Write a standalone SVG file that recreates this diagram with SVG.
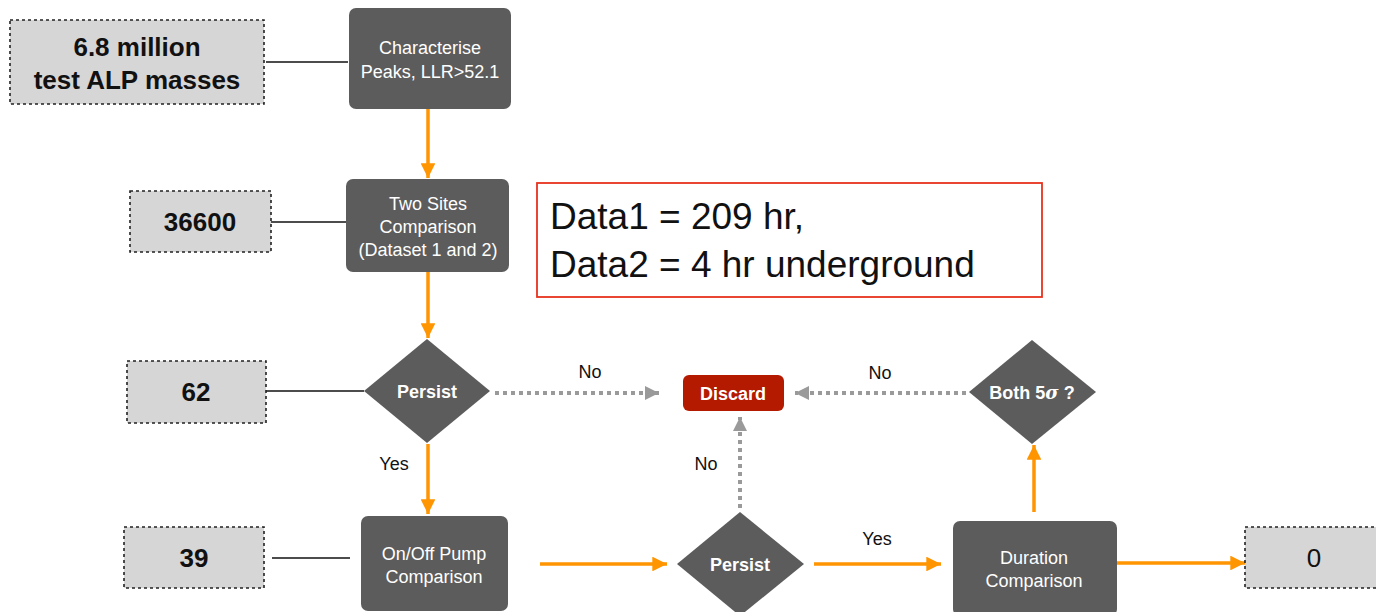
<svg xmlns="http://www.w3.org/2000/svg" width="1376" height="612" viewBox="0 0 1376 612">
<defs>
<style>
.cnt{fill:#d6d6d6;stroke:#222;stroke-width:1.6;stroke-dasharray:3 3}
.cnttxt{font-family:"Liberation Sans",Arial,sans-serif;font-size:26px;font-weight:bold;fill:#111;text-anchor:middle}
.proc{fill:#5c5c5c}
.proctxt{font-family:"Liberation Sans",Arial,sans-serif;font-size:18px;fill:#fff;text-anchor:middle}
.dtxt{font-family:"Liberation Sans",Arial,sans-serif;font-size:18px;font-weight:bold;fill:#fff;text-anchor:middle}
.lbl{font-family:"Liberation Sans",Arial,sans-serif;font-size:18px;fill:#111;text-anchor:middle}
.link{stroke:#111;stroke-width:1.6;fill:none}
.flow{stroke:#ff9500;stroke-width:3.5;fill:none}
.no{stroke:#9a9a9a;stroke-width:4;stroke-dasharray:4 4;fill:none}
</style>
<marker id="ao" viewBox="0 0 10 10" refX="10" refY="5" markerWidth="4.2" markerHeight="4.2" markerUnits="strokeWidth" orient="auto"><path d="M0,0 L10,5 L0,10 Z" fill="#ff9500"/></marker>
<marker id="ag" viewBox="0 0 10 10" refX="10" refY="5" markerWidth="3.5" markerHeight="3.5" markerUnits="strokeWidth" orient="auto"><path d="M0,0 L10,5 L0,10 Z" fill="#9a9a9a"/></marker>
</defs>
<rect width="1376" height="612" fill="#fff"/>

<g id="connectors">
<line class="link" x1="266" y1="62" x2="348" y2="62"/>
<line class="link" x1="271" y1="222" x2="346" y2="222"/>
<line class="link" x1="266" y1="391" x2="364" y2="391"/>
<line class="link" x1="272" y1="558" x2="350" y2="558"/>
<line class="flow" x1="428" y1="109" x2="428" y2="178" marker-end="url(#ao)"/>
<line class="flow" x1="428" y1="272" x2="428" y2="338" marker-end="url(#ao)"/>
<line class="flow" x1="428" y1="444" x2="428" y2="514" marker-end="url(#ao)"/>
<line class="flow" x1="540" y1="564" x2="667" y2="564" marker-end="url(#ao)"/>
<line class="flow" x1="814" y1="564" x2="941" y2="564" marker-end="url(#ao)"/>
<line class="flow" x1="1117" y1="563" x2="1245" y2="563" marker-end="url(#ao)"/>
<line class="flow" x1="1034" y1="512" x2="1034" y2="445" marker-end="url(#ao)"/>
<line class="no" x1="495" y1="393" x2="659" y2="393" marker-end="url(#ag)"/>
<line class="no" x1="966" y1="393" x2="795" y2="393" marker-end="url(#ag)"/>
<line class="no" x1="740" y1="508" x2="740" y2="417" marker-end="url(#ag)"/>
<text class="lbl" x="590" y="378">No</text>
<text class="lbl" x="880" y="379">No</text>
<text class="lbl" x="706" y="470">No</text>
<text class="lbl" x="394" y="470">Yes</text>
<text class="lbl" x="877" y="545">Yes</text>
</g>

<g id="count1"><rect class="cnt" x="10" y="20" width="254" height="84"/><text class="cnttxt" x="137" y="56">6.8 million</text><text class="cnttxt" x="137" y="89">test ALP masses</text></g>
<g id="count2"><rect class="cnt" x="130" y="191" width="141" height="61"/><text class="cnttxt" x="200" y="231">36600</text></g>
<g id="count3"><rect class="cnt" x="127" y="361" width="139" height="62"/><text class="cnttxt" x="196" y="401">62</text></g>
<g id="count4"><rect class="cnt" x="124" y="527" width="140" height="61"/><text class="cnttxt" x="194" y="567">39</text></g>
<g id="count5"><rect class="cnt" x="1245" y="527" width="140" height="61"/><text class="cnttxt" x="1314" y="567" style="font-weight:normal">0</text></g>

<g id="characterise"><rect class="proc" x="349" y="8" width="162" height="101" rx="7"/><text class="proctxt" x="430" y="54">Characterise</text><text class="proctxt" x="430" y="78">Peaks, LLR&gt;52.1</text></g>
<g id="twosites"><rect class="proc" x="346" y="179" width="163" height="93" rx="7"/><text class="proctxt" x="428" y="210">Two Sites</text><text class="proctxt" x="428" y="233">Comparison</text><text class="proctxt" x="428" y="256">(Dataset 1 and 2)</text></g>
<g id="persist1"><polygon class="proc" points="427,339 490,391 427,443 364,391"/><text class="dtxt" x="427" y="398">Persist</text></g>
<g id="discard"><rect x="683" y="375" width="101" height="36" rx="6" fill="#b41a00"/><text class="dtxt" x="733" y="400">Discard</text></g>
<g id="both5s"><polygon class="proc" points="1032,340 1096,392 1032,444 969,392"/><text class="dtxt" x="1032" y="399">Both 5<tspan font-style="italic" font-family="'DejaVu Serif',serif">σ</tspan> ?</text></g>
<g id="onoff"><rect class="proc" x="361" y="516" width="147" height="95" rx="7"/><text class="proctxt" x="434" y="560">On/Off Pump</text><text class="proctxt" x="434" y="583">Comparison</text></g>
<g id="persist2"><polygon class="proc" points="740,512 804,564 740,616 677,564"/><text class="dtxt" x="740" y="571">Persist</text></g>
<g id="duration"><rect class="proc" x="953" y="521" width="164" height="95" rx="7"/><text class="proctxt" x="1034" y="564">Duration</text><text class="proctxt" x="1034" y="587">Comparison</text></g>

<g id="note"><rect x="537" y="183" width="505" height="114" fill="#fff" stroke="#e8321e" stroke-width="1.8"/><text x="550" y="229" font-family="'Liberation Sans',Arial,sans-serif" font-size="37" fill="#111">Data1 = 209 hr,</text><text x="550" y="277" font-family="'Liberation Sans',Arial,sans-serif" font-size="37" fill="#111">Data2 = 4 hr underground</text></g>
</svg>
